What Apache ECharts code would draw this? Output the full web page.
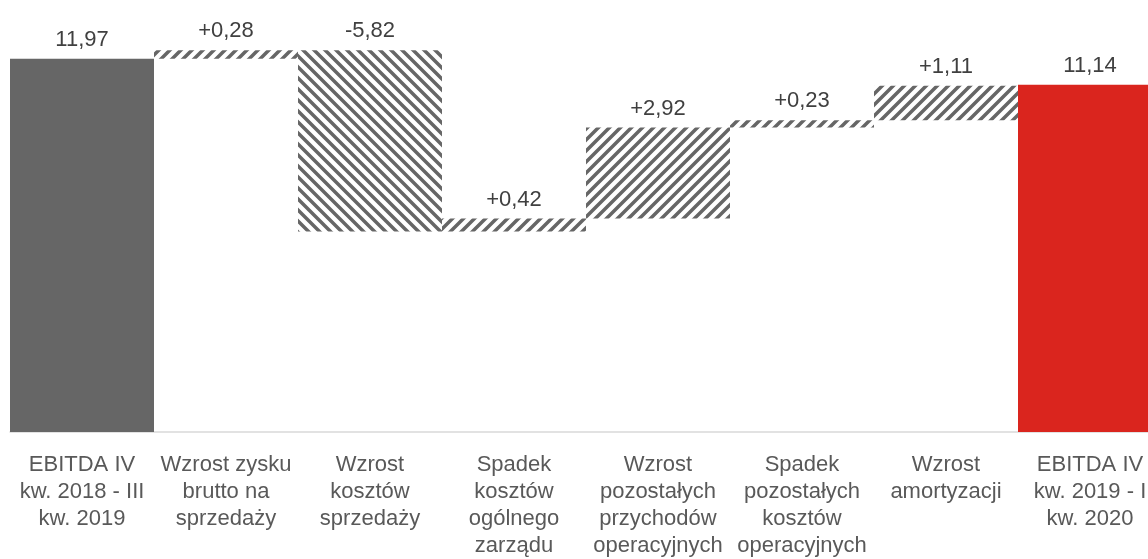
<!DOCTYPE html>
<html>
<head>
<meta charset="utf-8">
<script src="https://cdn.jsdelivr.net/npm/echarts@6/dist/echarts.min.js"></script>
<style>
  html, body { margin: 0; padding: 0; background: #fff; overflow: hidden; }
  /* the original chart runs past the right edge of the picture */
  #chart { width: 1162px; height: 559px; }
</style>
</head>
<body>
<div id="chart"></div>
<script>
// categories (line breaks as in the original chart)
var categories = [
  "EBITDA IV\nkw. 2018 - III\nkw. 2019",
  "Wzrost zysku\nbrutto na\nsprzedaży",
  "Wzrost\nkosztów\nsprzedaży",
  "Spadek\nkosztów\nogólnego\nzarządu",
  "Wzrost\npozostałych\nprzychodów\noperacyjnych",
  "Spadek\npozostałych\nkosztów\noperacyjnych",
  "Wzrost\namortyzacji",
  "EBITDA IV\nkw. 2019 - I\nkw. 2020"
];
// signed changes; first and last are totals
var values = [11.97, 0.28, -5.82, 0.42, 2.92, 0.23, 1.11, 11.14];
var valueLabels = ["11,97", "+0,28", "-5,82", "+0,42", "+2,92", "+0,23", "+1,11", "11,14"];

function hatch(dir) {
  var s = 11;
  var c = document.createElement("canvas");
  c.width = s;
  c.height = s;
  var ctx = c.getContext("2d");
  ctx.fillStyle = "#fff";
  ctx.fillRect(0, 0, s, s);
  ctx.strokeStyle = "#666666";
  ctx.lineWidth = 3.5;
  ctx.beginPath();
  if (dir === "/") {
    ctx.moveTo(0, s); ctx.lineTo(s, 0);
    ctx.moveTo(-3, 3); ctx.lineTo(3, -3);
    ctx.moveTo(s - 3, s + 3); ctx.lineTo(s + 3, s - 3);
  } else {
    ctx.moveTo(0, 0); ctx.lineTo(s, s);
    ctx.moveTo(s - 3, -3); ctx.lineTo(s + 3, 3);
    ctx.moveTo(-3, s - 3); ctx.lineTo(3, s + 3);
  }
  ctx.stroke();
  return { image: c, repeat: "repeat" };
}

var up = hatch("/");
var down = hatch("\\");

// build placeholder + visible bars for the waterfall
var base = [];
var bars = [];
var running = 0;
values.forEach(function (v, i) {
  var last = i === values.length - 1;
  if (i === 0 || last) {
    base.push(0);
    bars.push({
      value: v,
      itemStyle: { color: last ? "#DA251E" : "#666666" }
    });
    running = v;
  } else {
    var next = running + v;
    base.push(Math.min(running, next));
    bars.push({
      value: Math.abs(v),
      itemStyle: { color: v < 0 ? down : up }
    });
    running = next;
  }
});

var chart = echarts.init(document.getElementById("chart"));
chart.setOption({
  backgroundColor: "#ffffff",
  animation: false,
  grid: {
    left: 10,
    right: 0,
    top: 26.75,
    height: 406.25
  },
  xAxis: {
    type: "category",
    data: categories,
    axisLine: { lineStyle: { color: "#d9d9d9", width: 1.5 } },
    axisTick: { show: false },
    axisLabel: {
      interval: 0,
      margin: 19,
      color: "#595959",
      fontFamily: "Liberation Sans",
      fontSize: 22,
      lineHeight: 27
    }
  },
  yAxis: {
    type: "value",
    min: 0,
    max: 13,
    show: false
  },
  series: [
    {
      name: "base",
      type: "bar",
      stack: "w",
      silent: true,
      itemStyle: { color: "transparent" },
      barCategoryGap: "0%",
      data: base
    },
    {
      name: "change",
      type: "bar",
      stack: "w",
      barCategoryGap: "0%",
      label: {
        show: true,
        position: "top",
        distance: 8,
        color: "#404040",
        fontFamily: "Liberation Sans",
        fontSize: 22,
        formatter: function (p) {
          return valueLabels[p.dataIndex];
        }
      },
      data: bars
    }
  ]
});
</script>
</body>
</html>
